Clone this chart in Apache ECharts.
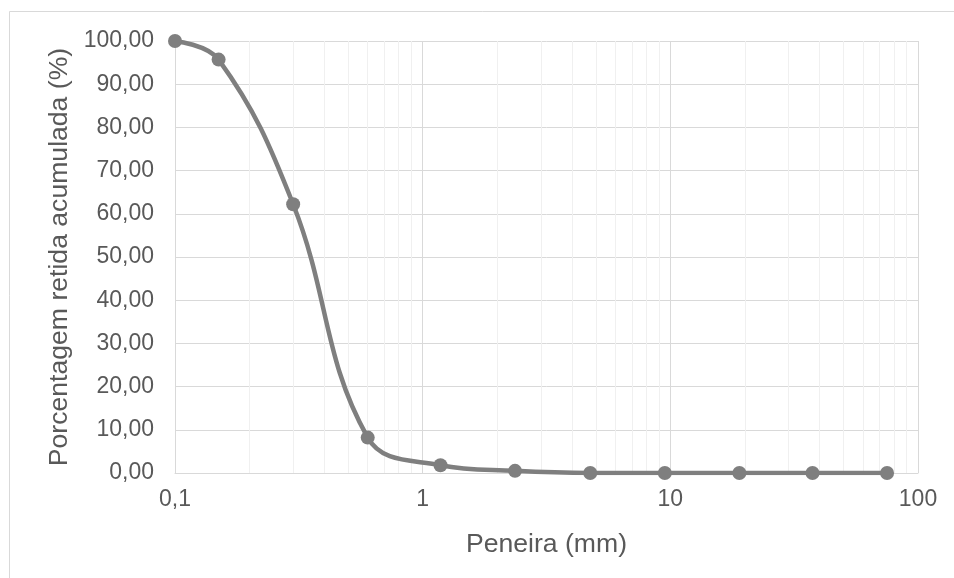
<!DOCTYPE html>
<html>
<head>
<meta charset="utf-8">
<script src="https://cdn.jsdelivr.net/npm/echarts@6/dist/echarts.min.js"></script>
<style>
  html, body { margin: 0; padding: 0; background: #ffffff; }
  #chart { width: 954px; height: 578px; }
</style>
</head>
<body>
<div id="chart"></div>
<script>
  // sieve openings (mm) and cumulative retained (%)
  const sieves = [0.1, 0.15, 0.3, 0.6, 1.18, 2.36, 4.75, 9.5, 19, 37.5, 75];
  const retained = [100, 95.7, 62.2, 8.2, 1.8, 0.5, 0, 0, 0, 0, 0];
  // minor log gridlines
  const minorTicks = [0.2, 0.3, 0.4, 0.5, 0.6, 0.7, 0.8, 0.9,
                      2, 3, 4, 5, 6, 7, 8, 9,
                      20, 30, 40, 50, 60, 70, 80, 90];

  const textColor = '#595959';
  const font = '"Liberation Sans", Arial, sans-serif';

  let chartDom = echarts.init(document.getElementById('chart'));
  let options = {
    animation: false,
    backgroundColor: '#ffffff',
    textStyle: { fontFamily: font },
    graphic: [{
      type: 'rect',
      shape: { x: 9.5, y: 11.5, width: 1000, height: 1000 },
      style: { fill: 'none', stroke: '#d9d9d9', lineWidth: 1 },
      silent: true,
      z: -1
    }],
    grid: { left: 175, right: 36, top: 41, bottom: 105 },
    xAxis: {
      type: 'log',
      logBase: 10,
      min: 0.1,
      max: 100,
      name: 'Peneira (mm)',
      nameLocation: 'middle',
      nameGap: 58,
      nameTextStyle: { fontSize: 26.6, color: textColor, fontFamily: font },
      axisLine: { show: true, lineStyle: { color: '#d9d9d9', width: 1 } },
      axisTick: { show: false },
      axisLabel: {
        fontSize: 23, color: textColor, margin: 15, fontFamily: font,
        formatter: v => String(+v.toPrecision(6)).replace('.', ',')
      },
      splitLine: { show: true, lineStyle: { color: '#d9d9d9', width: 1 } }
    },
    yAxis: {
      type: 'value',
      min: 0,
      max: 100,
      interval: 10,
      name: 'Porcentagem retida acumulada (%)',
      nameLocation: 'middle',
      nameGap: 98,
      nameTextStyle: { fontSize: 26.6, color: textColor, fontFamily: font },
      axisLine: { show: true, lineStyle: { color: '#d9d9d9', width: 1 } },
      axisTick: { show: false },
      axisLabel: {
        fontSize: 23, color: textColor, margin: 21, fontFamily: font,
        formatter: v => v.toFixed(2).replace('.', ',')
      },
      splitLine: { show: true, lineStyle: { color: '#d9d9d9', width: 1 } }
    },
    series: [{
      type: 'line',
      data: sieves.map((s, i) => [s, retained[i]]),
      smooth: 0.4,
      symbol: 'circle',
      symbolSize: 14,
      lineStyle: { color: '#7f7f7f', width: 4.5 },
      itemStyle: { color: '#7f7f7f' },
      z: 5,
      markLine: {
        silent: true,
        symbol: 'none',
        label: { show: false },
        lineStyle: { color: '#f0f0f0', width: 1, type: 'solid' },
        z: 1,
        data: minorTicks.map(t => ({ xAxis: t }))
      }
    }]
  };
  chartDom.setOption(options);
</script>
</body>
</html>
